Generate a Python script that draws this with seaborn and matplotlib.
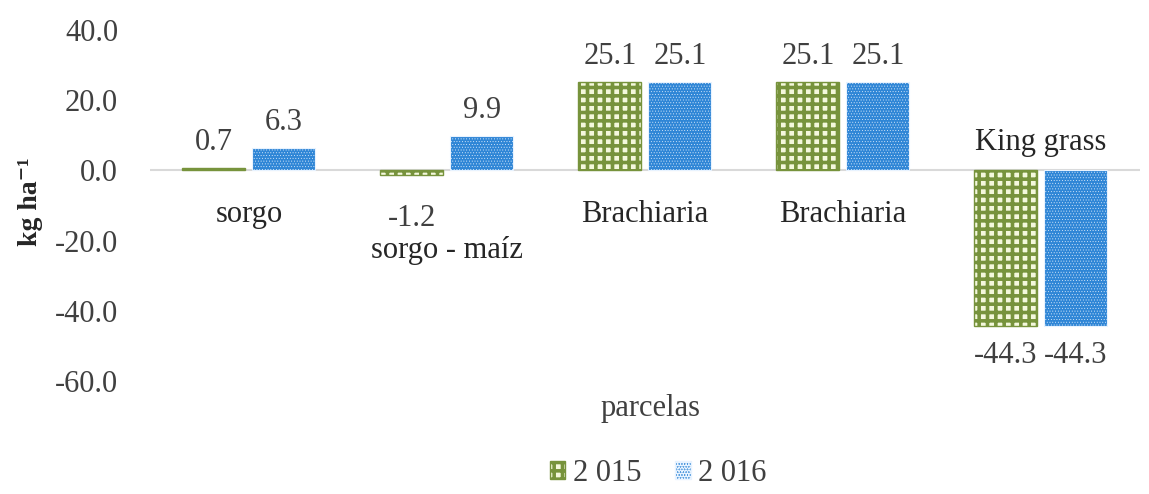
import matplotlib
matplotlib.use("Agg")
import matplotlib.pyplot as plt
import seaborn as sns
import pandas as pd
from matplotlib.patches import Patch

categories = ["sorgo", "sorgo - maíz", "Brachiaria", "Brachiaria", "King grass"]
years = ["2 015", "2 016"]
values_2015 = [0.7, -1.2, 25.1, 25.1, -44.3]
values_2016 = [6.3, 9.9, 25.1, 25.1, -44.3]
yticks = [40, 20, 0, -20, -40, -60]

sns.set_theme(style="white")
plt.rcParams['font.family'] = ['Liberation Serif', 'DejaVu Serif']
plt.rcParams['hatch.linewidth'] = 2.6

rows = []
for i, c in enumerate(categories):
    rows.append({"idx": i, "year": years[0], "value": values_2015[i]})
    rows.append({"idx": i, "year": years[1], "value": values_2016[i]})
df = pd.DataFrame(rows)

green = "#77933C"
green_light = "#F4F8DC"
blue = "#2F86D6"
FS = 22
TXT = "#404040"

fig = plt.figure(figsize=(11.49, 4.94), dpi=100)
ax = fig.add_axes([0.1305, 0.2287, 0.8615, 0.7103])

sns.barplot(data=df, x="idx", y="value", hue="year", hue_order=years,
            palette=[green_light, blue], width=0.707, gap=0.1, ax=ax,
            legend=False, saturation=1)

for bar in ax.containers[0]:
    bar.set_hatch("++")
    bar.set_edgecolor(green)
    bar.set_linewidth(1.0)
for bar in ax.containers[1]:
    bar.set_hatch("......")
    bar.set_edgecolor("#e8f3ff")
    bar.set_linewidth(0.8)
    if hasattr(bar, "set_hatch_linewidth"):
        bar.set_hatch_linewidth(0.3)

ax.set_ylim(-60, 40)
ax.set_xlim(-0.5, len(categories) - 0.5)
ax.set_yticks(yticks)
ax.set_yticklabels([f"{v:.1f}" for v in yticks], fontsize=FS, color=TXT)
ax.tick_params(axis="y", length=0, pad=23)
ax.set_xticks([])
ax.set_xlabel("")
for s in ax.spines.values():
    s.set_visible(False)
ax.axhline(0, color="#d9d9d9", lw=1.5, zorder=0)

# data labels
for cont, vals in zip(ax.containers, [values_2015, values_2016]):
    for bar, v in zip(cont, vals):
        xc = bar.get_x() + bar.get_width() / 2
        if v >= 0:
            off = 13
        else:
            off = -37 if abs(v) < 5 else -27
        ax.annotate(f"{v:.1f}", (xc, v), xytext=(0, off), textcoords="offset points",
                    ha="center", va="baseline", fontsize=FS, color=TXT)

# category labels next to the axis
for i, c in enumerate(categories):
    lo = min(values_2015[i], values_2016[i])
    hi = max(values_2015[i], values_2016[i])
    if lo >= 0:
        off = -37
    elif hi < 0:
        off = 15
    else:
        off = -63
    ax.annotate(c, (i, 0), xytext=(0, off), textcoords="offset points",
                ha="center", va="baseline", fontsize=FS, color="#262626")

ax.set_ylabel("kg ha⁻¹", fontsize=20, fontweight="bold", color="#262626")
ax.yaxis.set_label_coords(-0.108, 0.51)

fig.text(0.566, 0.174, "parcelas", ha="center", va="center", fontsize=FS, color=TXT)

handles = [Patch(facecolor=green_light, edgecolor=green, hatch="++"),
           Patch(facecolor=blue, edgecolor="#e8f3ff", hatch="......")]
fig.legend(handles, years, loc="center", bbox_to_anchor=(0.573, 0.042), ncol=2,
           frameon=False, fontsize=FS, handlelength=0.5, handleheight=0.5,
           handletextpad=0.25, columnspacing=1.1, labelcolor=TXT)

fig.savefig("out.png", dpi=100)
